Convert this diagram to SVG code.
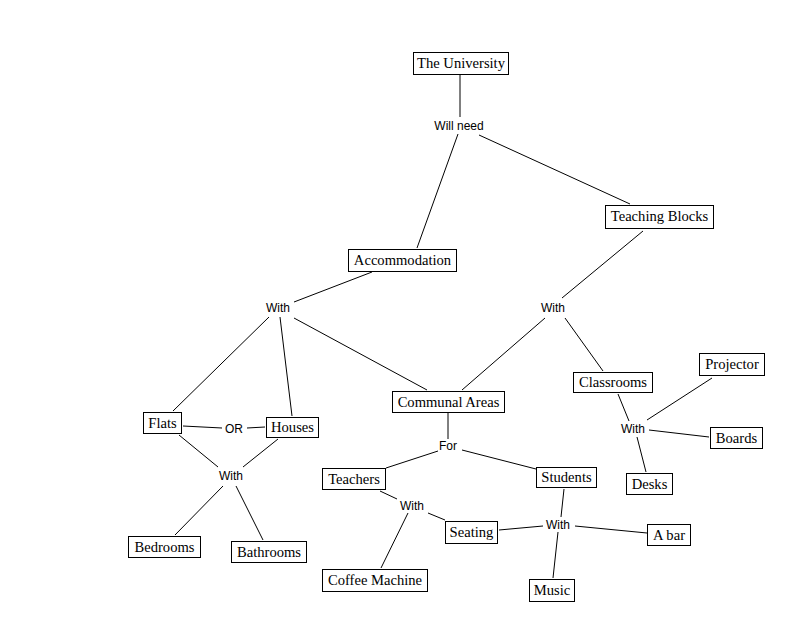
<svg xmlns="http://www.w3.org/2000/svg" width="805" height="642" viewBox="0 0 805 642">
<style>
.box rect{fill:#fff;stroke:#000;stroke-width:1}
.box text{font-family:"Liberation Serif",serif;font-size:14.6px;fill:#000;text-anchor:middle}
.lbl{font-family:"Liberation Sans",sans-serif;font-size:12px;fill:#000;text-anchor:middle}
#connectors line{stroke:#000;stroke-width:1}
</style>
<rect width="805" height="642" fill="#fff"/>
<g id="connectors">
<line x1="460" y1="75" x2="460" y2="117"/>
<line x1="458" y1="134" x2="417" y2="248"/>
<line x1="479" y1="135" x2="630" y2="204"/>
<line x1="643" y1="231" x2="562" y2="298"/>
<line x1="372" y1="272" x2="294" y2="302"/>
<line x1="269" y1="317" x2="173" y2="411"/>
<line x1="280" y1="317" x2="292" y2="416"/>
<line x1="294" y1="318" x2="427" y2="390"/>
<line x1="545" y1="318" x2="462" y2="390"/>
<line x1="565" y1="318" x2="603" y2="371"/>
<line x1="183" y1="426" x2="222" y2="428"/>
<line x1="247" y1="428" x2="265" y2="427"/>
<line x1="179" y1="435" x2="218" y2="467"/>
<line x1="278" y1="439" x2="243" y2="467"/>
<line x1="223" y1="486" x2="175" y2="535"/>
<line x1="236" y1="486" x2="263" y2="540"/>
<line x1="448" y1="413" x2="448" y2="439"/>
<line x1="438" y1="451" x2="386" y2="468"/>
<line x1="462" y1="450" x2="536" y2="469"/>
<line x1="380" y1="491" x2="397" y2="499"/>
<line x1="408" y1="513" x2="381" y2="568"/>
<line x1="428" y1="513" x2="445" y2="520"/>
<line x1="499" y1="530" x2="543" y2="526"/>
<line x1="564" y1="489" x2="561" y2="517"/>
<line x1="575" y1="526" x2="647" y2="533"/>
<line x1="558" y1="532" x2="553" y2="578"/>
<line x1="618" y1="394" x2="629" y2="421"/>
<line x1="712" y1="378" x2="647" y2="420"/>
<line x1="649" y1="430" x2="709" y2="437"/>
<line x1="637" y1="437" x2="646" y2="472"/>
<text class="lbl" x="459" y="130">Will need</text>
<text class="lbl" x="278" y="312">With</text>
<text class="lbl" x="553" y="312">With</text>
<text class="lbl" x="234" y="433">OR</text>
<text class="lbl" x="231" y="480">With</text>
<text class="lbl" x="448" y="450">For</text>
<text class="lbl" x="412" y="510">With</text>
<text class="lbl" x="558" y="529">With</text>
<text class="lbl" x="633" y="433">With</text>
</g>
<g id="university" class="box"><rect x="413.5" y="52.5" width="95" height="22"/><text x="461" y="68">The University</text></g>
<g id="accommodation" class="box"><rect x="348.5" y="249.5" width="108" height="22"/><text x="402.5" y="265">Accommodation</text></g>
<g id="teaching-blocks" class="box"><rect x="605.5" y="205.5" width="108" height="23"/><text x="659.5" y="221">Teaching Blocks</text></g>
<g id="communal-areas" class="box"><rect x="392.5" y="391.5" width="112" height="21"/><text x="448.5" y="407">Communal Areas</text></g>
<g id="classrooms" class="box"><rect x="573.5" y="372.5" width="79" height="20"/><text x="613" y="387">Classrooms</text></g>
<g id="flats" class="box"><rect x="143.5" y="412.5" width="38" height="21"/><text x="162.5" y="428">Flats</text></g>
<g id="houses" class="box"><rect x="266.5" y="417.5" width="52" height="20"/><text x="292.5" y="432">Houses</text></g>
<g id="teachers" class="box"><rect x="322.5" y="468.5" width="63" height="21"/><text x="354" y="484">Teachers</text></g>
<g id="students" class="box"><rect x="536.5" y="467.5" width="60" height="20"/><text x="566.5" y="482">Students</text></g>
<g id="seating" class="box"><rect x="445.5" y="521.5" width="52" height="22"/><text x="471.5" y="537">Seating</text></g>
<g id="projector" class="box"><rect x="699.5" y="353.5" width="65" height="22"/><text x="732" y="369">Projector</text></g>
<g id="boards" class="box"><rect x="710.5" y="427.5" width="52" height="21"/><text x="736.5" y="443">Boards</text></g>
<g id="desks" class="box"><rect x="626.5" y="473.5" width="46" height="21"/><text x="649.5" y="489">Desks</text></g>
<g id="a-bar" class="box"><rect x="647.5" y="524.5" width="43" height="21"/><text x="669" y="540">A bar</text></g>
<g id="music" class="box"><rect x="529.5" y="579.5" width="45" height="22"/><text x="552" y="595">Music</text></g>
<g id="bedrooms" class="box"><rect x="128.5" y="536.5" width="72" height="21"/><text x="164.5" y="552">Bedrooms</text></g>
<g id="bathrooms" class="box"><rect x="231.5" y="541.5" width="75" height="21"/><text x="269" y="557">Bathrooms</text></g>
<g id="coffee-machine" class="box"><rect x="322.5" y="569.5" width="105" height="22"/><text x="375" y="585">Coffee Machine</text></g>
</svg>
